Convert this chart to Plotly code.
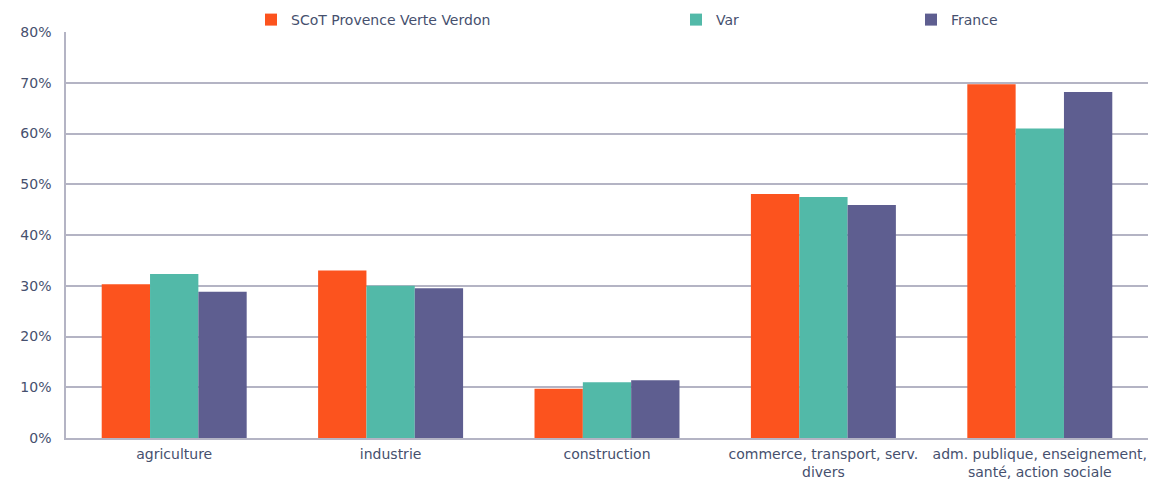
import plotly.graph_objects as go

categories = ["agriculture", "industrie", "construction",
              "commerce, transport, serv.<br>divers",
              "adm. publique, enseignement,<br>santé, action sociale"]
series_names = ["SCoT Provence Verte Verdon", "Var", "France"]
scot_values = [0.303, 0.330, 0.097, 0.481, 0.697]
var_values = [0.323, 0.300, 0.110, 0.475, 0.610]
france_values = [0.288, 0.295, 0.114, 0.459, 0.682]
tick_values = [0, 0.1, 0.2, 0.3, 0.4, 0.5, 0.6, 0.7, 0.8]

colors = ["#FC531E", "#52B9A8", "#5E5E90"]
text_color = "#46506E"
grid_color = "#B4B4C4"

fig = go.Figure()
all_values = [scot_values, var_values, france_values]
legend_ids = ["legend", "legend2", "legend3"]
for name, vals, col, lg in zip(series_names, all_values, colors, legend_ids):
    fig.add_trace(go.Bar(
        x=categories, y=vals, name=name, legend=lg, showlegend=True,
        marker=dict(color=col, line=dict(width=0)),
    ))

legend_common = dict(
    orientation="h", xref="paper", yref="paper",
    yanchor="middle", xanchor="left", y=1 + 12 / 406,
    font=dict(family="DejaVu Sans", size=14, color=text_color),
    bgcolor="rgba(0,0,0,0)", itemwidth=30,
)

def px_to_paper(px):
    return (px - 66) / 1082

fig.update_layout(
    width=1151, height=480,
    margin=dict(l=66, r=3, t=32, b=42, autoexpand=False),
    paper_bgcolor="white", plot_bgcolor="white",
    barmode="group", bargap=0.33, bargroupgap=0,
    font=dict(family="DejaVu Sans", size=14, color=text_color),
    legend=dict(**legend_common, x=px_to_paper(251)),
    legend2=dict(**legend_common, x=px_to_paper(676)),
    legend3=dict(**legend_common, x=px_to_paper(911)),
    xaxis=dict(
        showline=True, linecolor=grid_color, linewidth=2,
        tickfont=dict(size=14, color=text_color),
        showgrid=False, ticklabelstandoff=2,
    ),
    yaxis=dict(
        range=[0, 0.8], tickvals=tick_values, tickformat=".0%",
        showgrid=True, gridcolor=grid_color, gridwidth=1.5,
        showline=True, linecolor=grid_color, linewidth=1.5,
        zeroline=False, ticklabelstandoff=10,
        tickfont=dict(size=14, color=text_color),
    ),
)

fig.write_html("out.html", config={"displayModeBar": False},
               post_script="document.body.style.margin='0';")
